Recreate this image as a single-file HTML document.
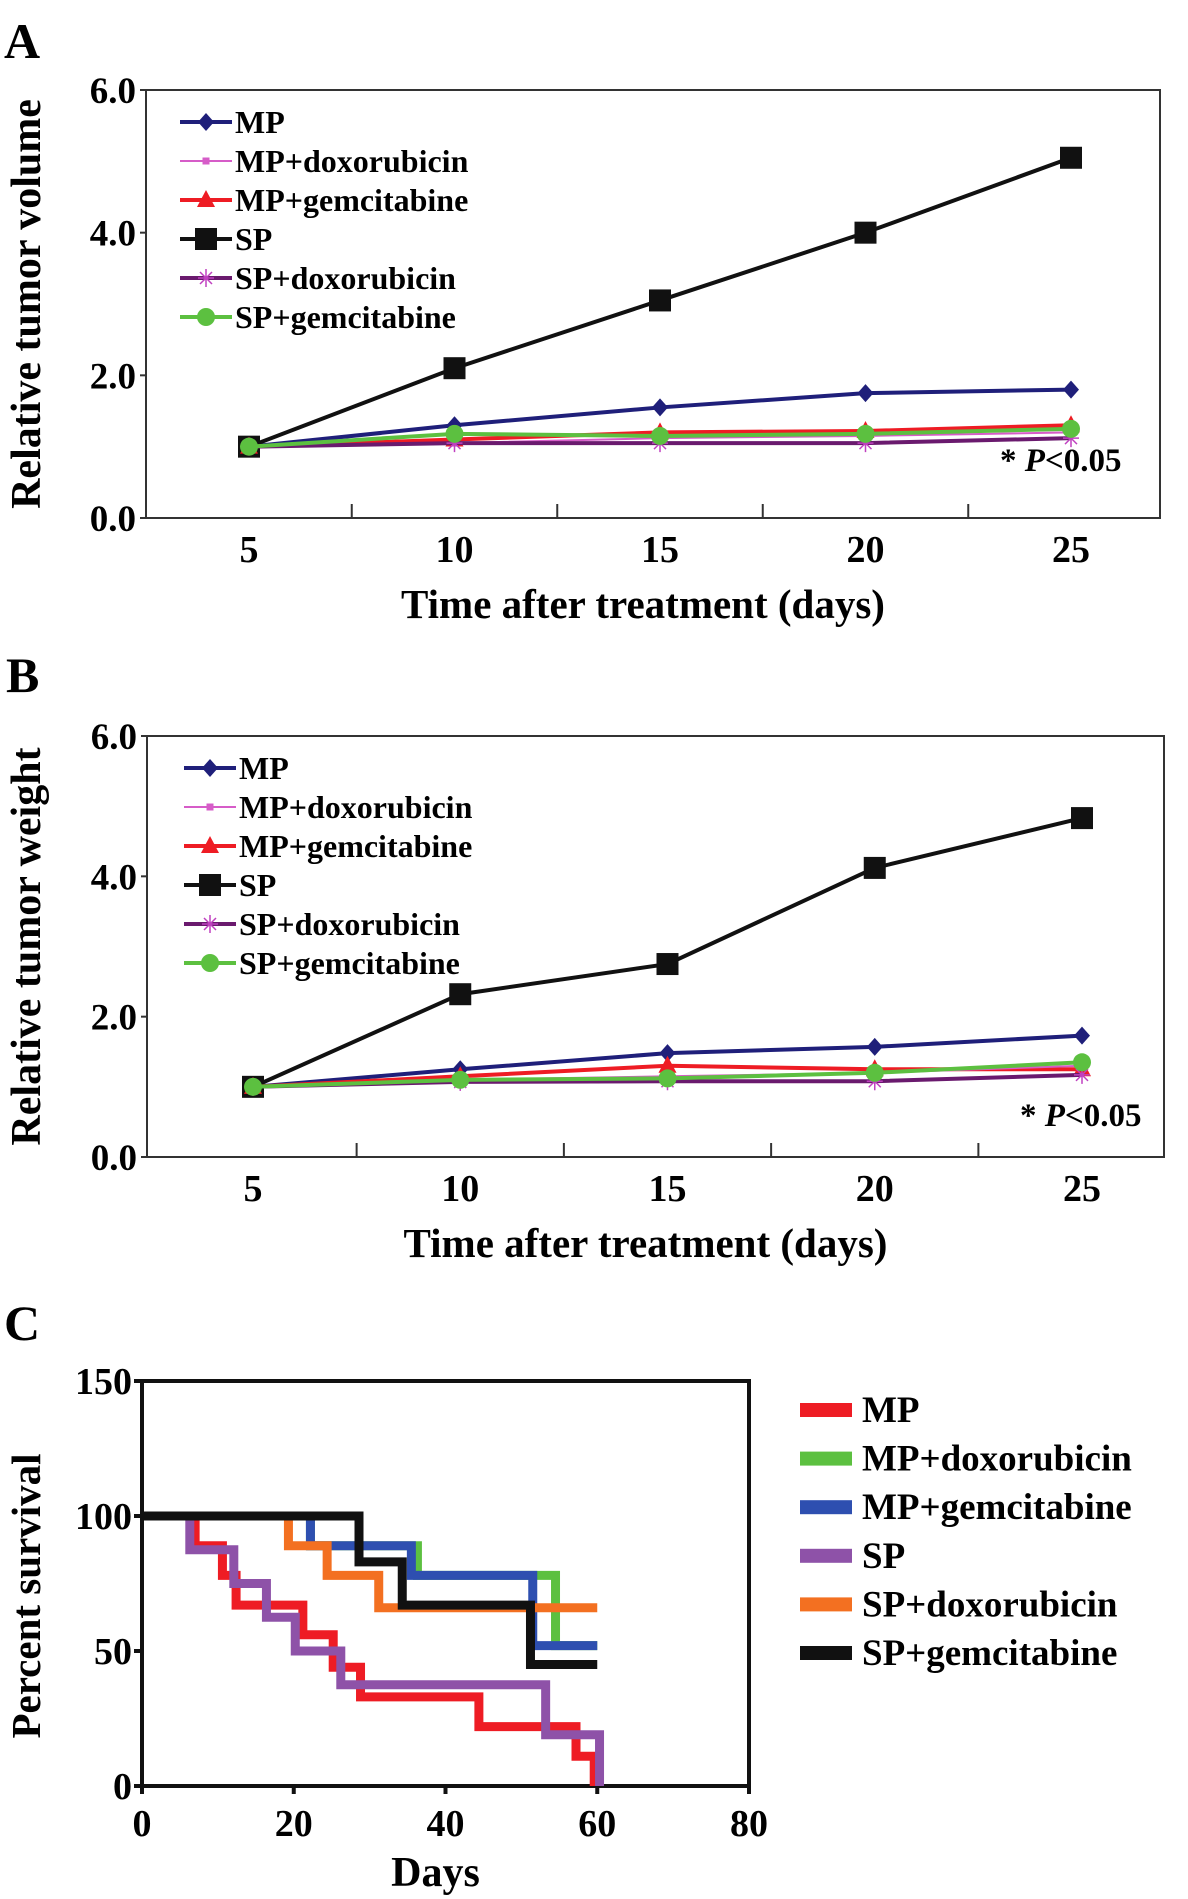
<!DOCTYPE html>
<html><head><meta charset="utf-8"><style>
html,body{margin:0;padding:0;background:#fff}
svg{display:block;font-family:"Liberation Serif",serif;font-weight:bold}
</style></head><body>
<svg id="fig" width="1188" height="1899" viewBox="0 0 1188 1899" xmlns="http://www.w3.org/2000/svg">
<text x="4" y="58" font-size="50">A</text>
<text x="6" y="692" font-size="50">B</text>
<text x="4" y="1340" font-size="50">C</text>
<g id="pa"></g>
<g id="pb"></g>
<g id="pc"></g>
</svg>
<script>
const days = [5, 10, 15, 20, 25];
const seriesNames = ["MP", "MP+doxorubicin", "MP+gemcitabine", "SP", "SP+doxorubicin", "SP+gemcitabine"];
const yTicksAB = ["0.0", "2.0", "4.0", "6.0"];
const volMP = [1.0, 1.3, 1.55, 1.75, 1.8];
const volMPdox = [1.0, 1.05, 1.12, 1.15, 1.2];
const volMPgem = [1.0, 1.1, 1.2, 1.22, 1.3];
const volSP = [1.0, 2.1, 3.05, 4.0, 5.05];
const volSPdox = [1.0, 1.05, 1.05, 1.05, 1.12];
const volSPgem = [1.0, 1.18, 1.15, 1.18, 1.25];
const wtMP = [1.0, 1.25, 1.48, 1.57, 1.73];
const wtMPdox = [1.0, 1.1, 1.15, 1.2, 1.3];
const wtMPgem = [1.0, 1.15, 1.3, 1.25, 1.25];
const wtSP = [1.0, 2.32, 2.75, 4.12, 4.83];
const wtSPdox = [1.0, 1.07, 1.08, 1.08, 1.17];
const wtSPgem = [1.0, 1.1, 1.12, 1.2, 1.35];
// survival steps: [day, percent] pairs
const survMP = [[0,100],[7,89],[10.6,78],[12.4,67],[21.2,56],[25.2,44],[28.8,33],[44.4,22],[57.2,11],[59.6,0]];
const survMPdox = [[0,100],[22.2,89],[36.3,78],[54.5,52],[60,52]];
const survMPgem = [[0,100],[22.2,89],[35.5,78],[51.5,52],[60,52]];
const survSP = [[0,100],[6.3,87.5],[12.1,75],[16.4,62.5],[20.2,50],[26.2,37.5],[53.2,19],[60.3,0]];
const survSPdox = [[0,100],[19.3,89],[24.4,78],[31.2,66],[60,66]];
const survSPgem = [[0,100],[28.6,83],[34.3,67],[51.2,45],[60,45]];
const survTicksX = [0, 20, 40, 60, 80];
const survTicksY = [0, 50, 100, 150];

const NS = "http://www.w3.org/2000/svg";
function mk(parent, tag, attrs, text){
  const e = document.createElementNS(NS, tag);
  for (const k in attrs) e.setAttribute(k, attrs[k]);
  if (text !== undefined) e.textContent = text;
  parent.appendChild(e); return e;
}
const colorsAB = ["#1f1f7a", "#d65cc8", "#ee1c24", "#111111", "#6a1a6e", "#5cc040"];
const markers = ["diamond", "smallsq", "triangle", "square", "star", "circle"];

function marker(g, type, x, y, c){
  let m;
  if (type === "diamond") m = mk(g, "polygon", {points:`${x},${y-9} ${x+8},${y} ${x},${y+9} ${x-8},${y}`, fill:c});
  else if (type === "smallsq") m = mk(g, "rect", {x:x-3.5, y:y-3.5, width:7, height:7, fill:c});
  else if (type === "triangle") m = mk(g, "polygon", {points:`${x},${y-10} ${x+9},${y+7} ${x-9},${y+7}`, fill:c});
  else if (type === "square") m = mk(g, "rect", {x:x-11, y:y-11, width:22, height:22, fill:c});
  else if (type === "star") { m = mk(g, "path", {d:`M${x-8} ${y}H${x+8}M${x} ${y-9}V${y+9}M${x-6} ${y-6}L${x+6} ${y+6}M${x+6} ${y-6}L${x-6} ${y+6}`, stroke:"#c040c0", "stroke-width":1.5, fill:"none"}); }
  else m = mk(g, "circle", {cx:x, cy:y, r:9, fill:c});
  
  
}

function lineChart(g, cfg, series, ytitle){
  const {x0,x1,y0,y1,d5,d25,legX,legY,pX,pY} = cfg;
  const xs = d => d5 + (d - 5) * (d25 - d5) / 20;
  const ys = v => y1 - v * (y1 - y0) / 6;
  const box = mk(g, "rect", {x:x0, y:y0, width:x1-x0, height:y1-y0, fill:"none", stroke:"#333", "stroke-width":2});
   
  yTicksAB.forEach(t => {
    const y = ys(parseFloat(t));
    mk(g, "line", {x1:x0-6, x2:x0, y1:y, y2:y, stroke:"#333", "stroke-width":2});
    const tl = mk(g, "text", {x:x0-10, y:y+13, "font-size":37, "text-anchor":"end"}, t);
     
  });
  for (let i = 0; i < days.length - 1; i++) {
    const xm = (xs(days[i]) + xs(days[i+1])) / 2;
    mk(g, "line", {x1:xm, x2:xm, y1:y1, y2:y1-14, stroke:"#333", "stroke-width":2});
  }
  days.forEach(d => {
    const tl = mk(g, "text", {x:xs(d), y:y1+44, "font-size":38, "text-anchor":"middle"}, d);
     
  });
  const xt = mk(g, "text", {x:(x0+x1)/2 - 10, y:y1+100, "font-size":41, "text-anchor":"middle"}, "Time after treatment (days)");
   
  const cy = (y0+y1)/2;
  const yt = mk(g, "text", {x:0, y:0, "font-size":42, "text-anchor":"middle", transform:`translate(40 ${cy}) rotate(-90)`}, ytitle);
   
  const order = [0, 3, 2, 1, 4, 5];
  order.forEach(i => {
    const s = series[i], c = colorsAB[i];
    const sg = mk(g, "g", {});
    
    
    mk(sg, "polyline", {points: s.map((v,j) => `${xs(days[j])},${ys(v)}`).join(" "), fill:"none", stroke:c, "stroke-width":(i===1?2:4)});
    s.forEach((v,j) => marker(sg, markers[i], xs(days[j]), ys(v), c));
  });
  seriesNames.forEach((n,i) => {
    const y = legY + i * 39;
    const lg = mk(g, "g", {});
    
    
    mk(lg, "line", {x1:legX, x2:legX+52, y1:y, y2:y, stroke:colorsAB[i], "stroke-width":(i===1?2:4)});
    marker(lg, markers[i], legX+26, y, colorsAB[i]);
    mk(lg, "text", {x:legX+55, y:y+11, "font-size":32}, n);
  });
  const p = mk(g, "text", {x:pX, y:pY, "font-size":33}, "");
   
  mk(p, "tspan", {}, "*  ");
  mk(p, "tspan", {"font-style":"italic"}, "P");
  mk(p, "tspan", {}, "<0.05");
}

lineChart(document.getElementById("pa"),
  {x0:146,x1:1160,y0:90,y1:518,d5:249,d25:1071,legX:180,legY:122,pX:1000,pY:471},
  [volMP, volMPdox, volMPgem, volSP, volSPdox, volSPgem], "Relative tumor volume");
lineChart(document.getElementById("pb"),
  {x0:147,x1:1164,y0:736,y1:1157,d5:253,d25:1082,legX:184,legY:768,pX:1020,pY:1126},
  [wtMP, wtMPdox, wtMPgem, wtSP, wtSPdox, wtSPgem], "Relative tumor weight");

// Panel C
(function(){
  const g = document.getElementById("pc");
  const x0 = 142, x1 = 749, y0 = 1381, y1 = 1786;
  const xs = d => x0 + d * (x1 - x0) / 80;
  const ys = v => y1 - v * (y1 - y0) / 150;
  const cols = ["#ee1c24", "#5cc040", "#2e4fb0", "#8e52a8", "#f37021", "#111111"];
  const data = [survMP, survMPdox, survMPgem, survSP, survSPdox, survSPgem];
  const fr = mk(g, "path", {d:`M${x0} ${y1}V${y0}H${x1}V${y1}Z`, fill:"none", stroke:"#111", "stroke-width":4});
   
  survTicksY.forEach(t => {
    const y = ys(t);
    mk(g, "line", {x1:x0-8, x2:x0, y1:y, y2:y, stroke:"#111", "stroke-width":4});
    const tl = mk(g, "text", {x:x0-10, y:y+13, "font-size":38, "text-anchor":"end"}, t);
     
  });
  survTicksX.forEach(t => {
    const x = xs(t);
    mk(g, "line", {x1:x, x2:x, y1:y1, y2:y1+8, stroke:"#111", "stroke-width":4});
    const tl = mk(g, "text", {x:x, y:y1+50, "font-size":38, "text-anchor":"middle"}, t);
     
  });
  const xt = mk(g, "text", {x:(x0+x1)/2 - 10, y:1886, "font-size":42, "text-anchor":"middle"}, "Days");
   
  const yt = mk(g, "text", {x:0, y:0, "font-size":41, "text-anchor":"middle", transform:`translate(40 1596) rotate(-90)`}, "Percent survival");
   
  const order = [0, 3, 1, 2, 4, 5];
  order.forEach(i => {
    const s = data[i];
    let d = `M${xs(s[0][0])} ${ys(s[0][1])}`;
    for (let j = 1; j < s.length; j++) d += `H${xs(s[j][0])}V${ys(s[j][1])}`;
    const p = mk(g, "path", {d:d, fill:"none", stroke:cols[i], "stroke-width":9});
    
    
  });
  seriesNames.forEach((n,i) => {
    const y = 1410 + i * 48.6;
    const lg = mk(g, "g", {});
    
    
    mk(lg, "rect", {x:800, y:y-7, width:52, height:14, fill:cols[i]});
    mk(lg, "text", {x:862, y:y+12, "font-size":37}, n);
  });
})();
</script>
</body></html>
